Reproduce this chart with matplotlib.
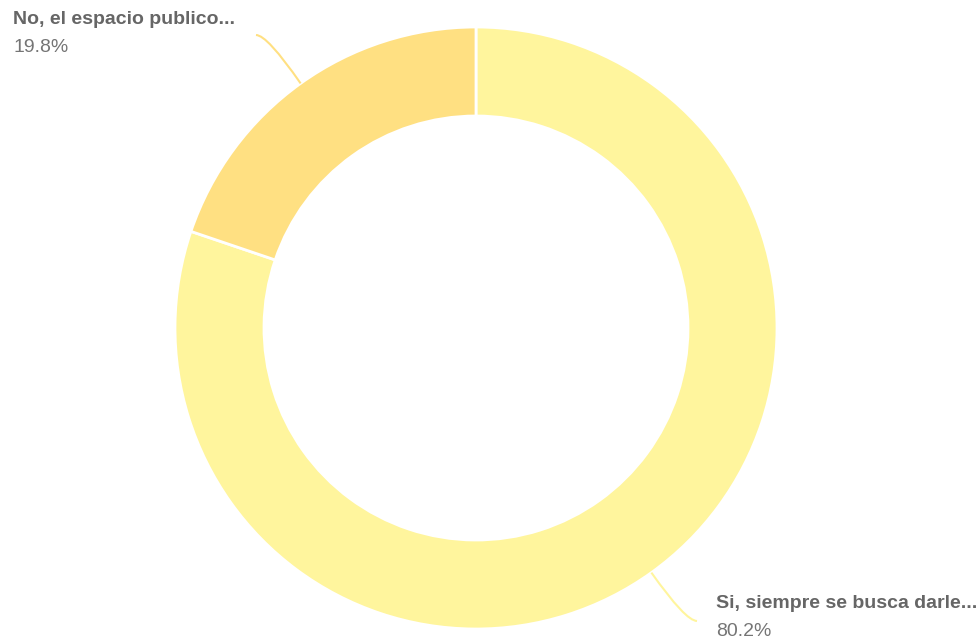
import numpy as np
import matplotlib
matplotlib.use('Agg')
import matplotlib.pyplot as plt
from matplotlib.path import Path
from matplotlib.patches import PathPatch

plt.rcParams['font.family'] = ['Liberation Sans', 'DejaVu Sans']

labels = ['Si, siempre se busca darle...', 'No, el espacio publico...']
values = [80.2, 19.8]
colors = ['#FFF59D', '#FFE082']

W, H = 980, 641
fig = plt.figure(figsize=(W / 100, H / 100), dpi=100)
ax = fig.add_axes([0, 0, 1, 1])

cx, cy = 476, H - 328
R = 301
wedges, _ = ax.pie(values, colors=colors, startangle=90, counterclock=False,
                   center=(cx, cy), radius=R,
                   wedgeprops=dict(width=R - 212, edgecolor='white', linewidth=2))
ax.set_xlim(0, W)
ax.set_ylim(0, H)
ax.set_aspect('equal')
ax.axis('off')

# label anchors (pixel coords from top) : leader end, text position
anchors = [((697, 621), (716, 604)), ((256, 35), (13, 20))]

for w, lab, val, col, (end, txt) in zip(wedges, labels, values, colors, anchors):
    mid = np.deg2rad((w.theta1 + w.theta2) / 2)
    sx, sy = cx + R * np.cos(mid), cy + R * np.sin(mid)
    ex, ey = end[0], H - end[1]
    # mostly straight, bending to horizontal near the end
    ctrl = (ex + (sx - ex) * 0.25, ey)
    p = Path([(sx, sy), ctrl, (ex, ey)], [Path.MOVETO, Path.CURVE3, Path.CURVE3])
    ax.add_patch(PathPatch(p, fill=False, edgecolor=col, linewidth=1.5))
    ax.text(txt[0], H - txt[1], lab, fontsize=14, fontweight='bold',
            color='#666666', ha='left', va='center')
    ax.text(txt[0], H - txt[1] - 27, '%.1f%%' % val, fontsize=14,
            color='#757575', ha='left', va='center')

fig.savefig('out.png', dpi=100)
